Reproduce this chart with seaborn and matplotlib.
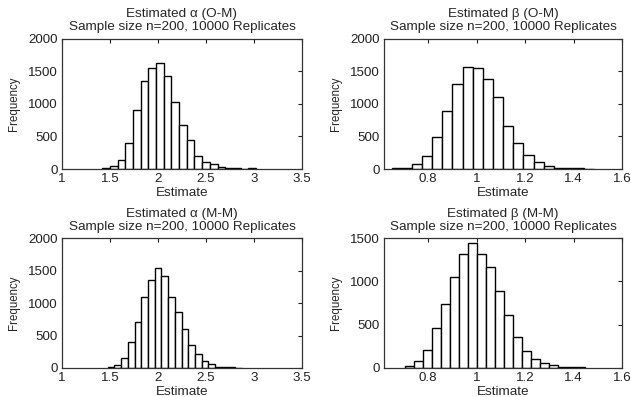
import numpy as np
import pandas as pd
import seaborn as sns
import matplotlib
matplotlib.use("Agg")
import matplotlib.pyplot as plt
from matplotlib.ticker import FuncFormatter

# ---- data ----
titles = ["Estimated \u03b1 (O-M)", "Estimated \u03b2 (O-M)",
          "Estimated \u03b1 (M-M)", "Estimated \u03b2 (M-M)"]
subtitle = "Sample size n=200, 10000 Replicates"

# histogram ranges (first edge, last edge), 20 equal bins each
alpha_om_range = (1.42, 3.02)
beta_om_range = (0.649, 1.486)
alpha_mm_range = (1.476, 2.876)
beta_mm_range = (0.704, 1.446)

alpha_om_counts = [8, 50, 140, 405, 900, 1350, 1550, 1630, 1430, 1030,
                   680, 450, 205, 112, 72, 35, 15, 10, 6, 15]
beta_om_counts = [8, 20, 80, 200, 490, 890, 1300, 1560, 1550, 1380,
                  1100, 665, 400, 220, 100, 45, 20, 10, 8, 5]
alpha_mm_counts = [15, 46, 149, 395, 703, 1092, 1349, 1533, 1415, 1092,
                   862, 595, 354, 220, 108, 62, 18, 12, 8, 5]
beta_mm_counts = [27, 81, 210, 458, 742, 1046, 1311, 1442, 1317, 1163,
                  888, 608, 358, 200, 108, 62, 33, 14, 10, 8]

alpha_xticks = [1, 1.5, 2, 2.5, 3, 3.5]
beta_xticks = [0.8, 1, 1.2, 1.4, 1.6]
yticks_2000 = [0, 500, 1000, 1500, 2000]
yticks_1500 = [0, 500, 1000, 1500]

panels = [
    (alpha_om_range, alpha_om_counts, (1, 3.5), alpha_xticks, (0, 2000), yticks_2000),
    (beta_om_range, beta_om_counts, (0.618, 1.6), beta_xticks, (0, 2000), yticks_2000),
    (alpha_mm_range, alpha_mm_counts, (1, 3.5), alpha_xticks, (0, 2000), yticks_2000),
    (beta_mm_range, beta_mm_counts, (0.618, 1.6), beta_xticks, (0, 1500), yticks_1500),
]

# ---- style ----
sns.set_style("white")
plt.rcParams["font.family"] = ["Liberation Sans", "DejaVu Sans"]
plt.rcParams["xtick.direction"] = "in"
plt.rcParams["ytick.direction"] = "in"

fig = plt.figure(figsize=(6.31, 3.97), dpi=100)
W, H = 631, 397
boxes = [
    (62, 38.5, 302, 169),
    (384, 38.5, 622, 169),
    (62, 238, 302, 368),
    (384, 238, 622, 368),
]

fmt = FuncFormatter(lambda v, p: "%g" % v)

for i, ((lo, hi), counts, xlim, xt, ylim, yt) in enumerate(panels):
    x0, y0, x1, y1 = boxes[i]
    ax = fig.add_axes([x0 / W, 1 - y1 / H, (x1 - x0) / W, (y1 - y0) / H])
    edges = [float(e) for e in np.linspace(lo, hi, len(counts) + 1)]
    centers = [(edges[k] + edges[k + 1]) / 2 for k in range(len(counts))]
    df = pd.DataFrame({"Estimate": centers, "count": counts})
    sns.histplot(data=df, x="Estimate", weights="count", bins=edges,
                 color="white", edgecolor="black", linewidth=1.0,
                 alpha=1, ax=ax)
    ax.set_xlim(*xlim)
    ax.set_ylim(*ylim)
    ax.set_xticks(xt)
    ax.set_yticks(yt)
    ax.xaxis.set_major_formatter(fmt)
    ax.tick_params(axis="both", which="both", direction="in", length=3,
                   width=0.8, top=True, right=True, labelsize=9.6,
                   colors="#222222", pad=3)
    for s in ax.spines.values():
        s.set_visible(True)
        s.set_color("#333333")
        s.set_linewidth(0.9)
    ax.set_title(titles[i] + "\n" + subtitle, fontsize=9.7, pad=6,
                 linespacing=1.12)
    ax.set_xlabel("Estimate", fontsize=9.7, labelpad=1.5)
    ax.set_ylabel("Frequency", fontsize=8.3, labelpad=6)

fig.savefig("out.png", dpi=100, facecolor="white")
